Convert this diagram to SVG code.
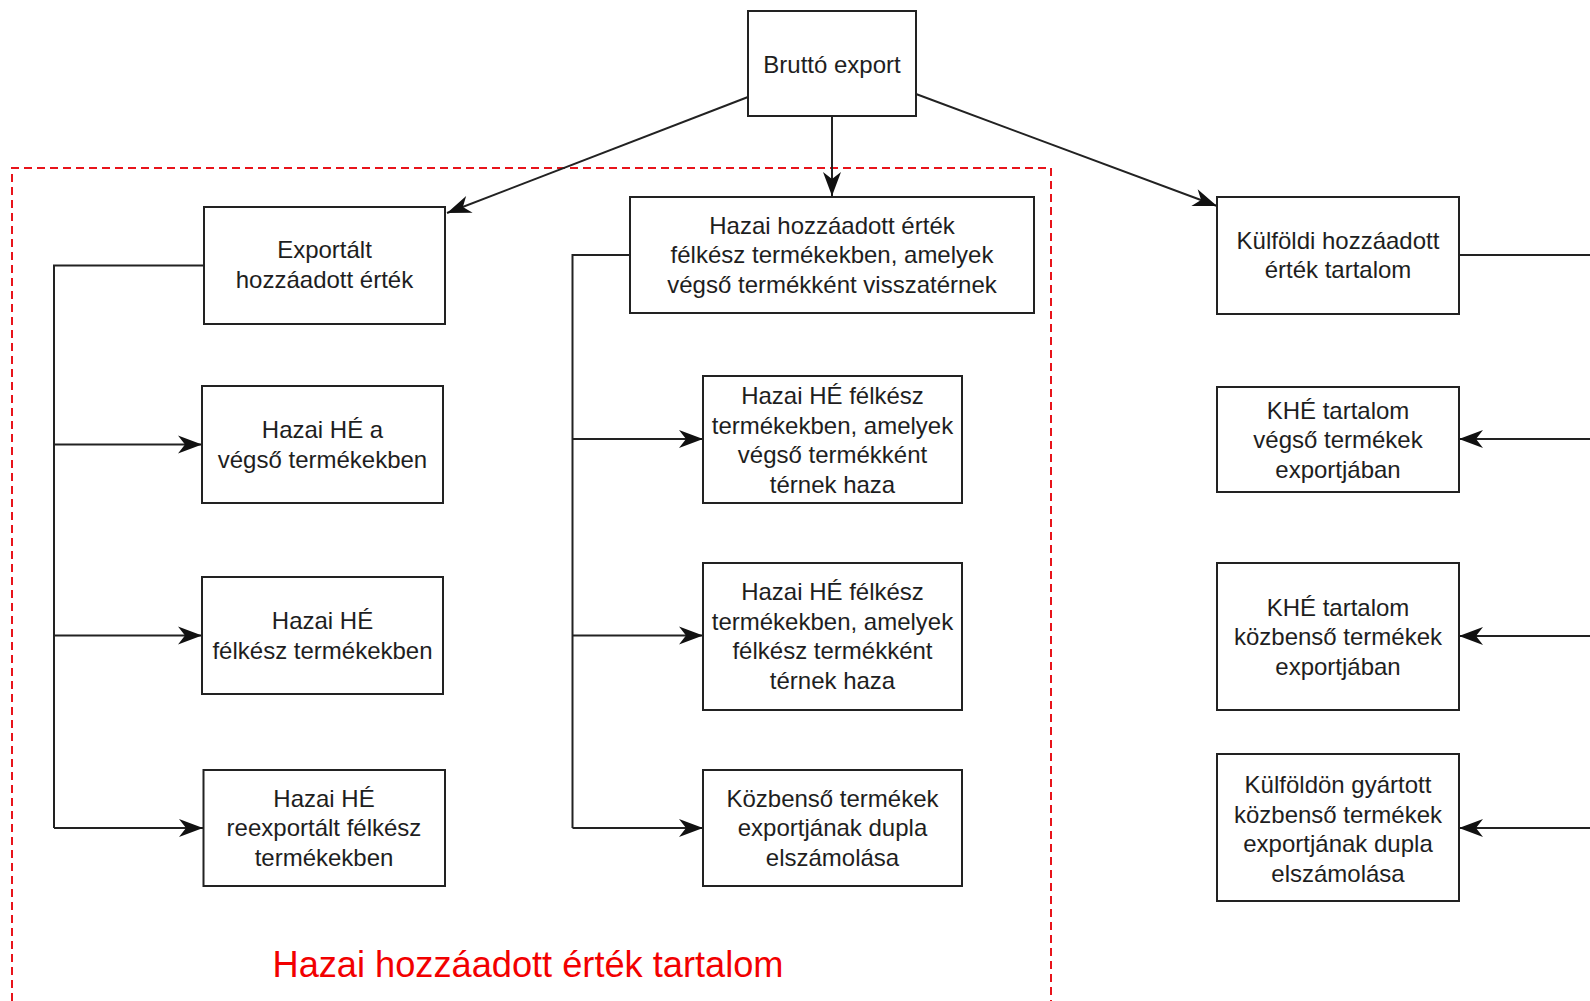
<svg xmlns="http://www.w3.org/2000/svg" width="1590" height="1001" viewBox="0 0 1590 1001">
<style>
.box{fill:#fff;stroke:#222;stroke-width:2}
.t{font-family:"Liberation Sans",Arial,sans-serif;font-size:24px;fill:#1e1e1e;text-anchor:middle}
.c{fill:none;stroke:#222;stroke-width:2}
.a{marker-end:url(#arr)}
</style>
<defs>
<marker id="arr" markerUnits="userSpaceOnUse" markerWidth="26" markerHeight="20" refX="24" refY="9" orient="auto" overflow="visible">
<path d="M0,0 L24,9 L0,18 L7,9 Z" fill="#111"/>
</marker>
</defs>
<rect width="1590" height="1001" fill="#fff"/>
<g id="frame">
<path d="M12,1001 V168 H1051 V1001" fill="none" stroke="#e8141b" stroke-width="2" stroke-dasharray="8,5"/>
<text x="528" y="977" font-family="'Liberation Sans',Arial,sans-serif" font-size="36" fill="#f20000" text-anchor="middle" textLength="511" lengthAdjust="spacingAndGlyphs">Hazai hozzáadott érték tartalom</text>
</g>
<g id="connectors">
<path class="c" d="M204,265.5 H54 V828"/>
<path class="c a" d="M54,444.5 H202"/>
<path class="c a" d="M54,635.5 H202"/>
<path class="c a" d="M54,828 H203"/>
<path class="c" d="M630,255 H572.5 V828"/>
<path class="c a" d="M572.5,439 H703"/>
<path class="c a" d="M572.5,635.5 H703"/>
<path class="c a" d="M572.5,828 H703"/>
<path class="c" d="M1459,255 H1590"/>
<path class="c a" d="M1592,439 H1459"/>
<path class="c a" d="M1592,636 H1459"/>
<path class="c a" d="M1592,828 H1459"/>
<path class="c a" d="M748,97 L447,213"/>
<path class="c a" d="M832,116 V196"/>
<path class="c a" d="M916,94 L1217,206"/>
</g>
<g id="n_brutto">
<rect class="box" x="748" y="11" width="168" height="105"/>
<text class="t" x="832" y="73">Bruttó export</text>
</g>
<g id="n_exportalt">
<rect class="box" x="204" y="207" width="241" height="117"/>
<text class="t" x="324.5" y="258">Exportált</text>
<text class="t" x="324.5" y="288">hozzáadott érték</text>
</g>
<g id="n_hazai_visszater">
<rect class="box" x="630" y="197" width="404" height="116"/>
<text class="t" x="832" y="233.5">Hazai hozzáadott érték</text>
<text class="t" x="832" y="263">félkész termékekben, amelyek</text>
<text class="t" x="832" y="292.5">végső termékként visszatérnek</text>
</g>
<g id="n_kulfoldi">
<rect class="box" x="1217" y="197" width="242" height="117"/>
<text class="t" x="1338" y="248.5">Külföldi hozzáadott</text>
<text class="t" x="1338" y="278">érték tartalom</text>
</g>
<g id="n_he_vegso">
<rect class="box" x="202" y="386" width="241" height="117"/>
<text class="t" x="322.5" y="437.5">Hazai HÉ a</text>
<text class="t" x="322.5" y="467.5">végső termékekben</text>
</g>
<g id="n_he_felkesz">
<rect class="box" x="202" y="577" width="241" height="117"/>
<text class="t" x="322.5" y="629">Hazai HÉ</text>
<text class="t" x="322.5" y="659">félkész termékekben</text>
</g>
<g id="n_he_reexport">
<rect class="box" x="203.5" y="770" width="241.5" height="116"/>
<text class="t" x="324" y="806.5">Hazai HÉ</text>
<text class="t" x="324" y="836">reexportált félkész</text>
<text class="t" x="324" y="865.5">termékekben</text>
</g>
<g id="n_m_vegso">
<rect class="box" x="703" y="376" width="259" height="127"/>
<text class="t" x="832.5" y="404">Hazai HÉ félkész</text>
<text class="t" x="832.5" y="433.5">termékekben, amelyek</text>
<text class="t" x="832.5" y="463">végső termékként</text>
<text class="t" x="832.5" y="492.5">térnek haza</text>
</g>
<g id="n_m_felkesz">
<rect class="box" x="703" y="563" width="259" height="147"/>
<text class="t" x="832.5" y="600">Hazai HÉ félkész</text>
<text class="t" x="832.5" y="629.5">termékekben, amelyek</text>
<text class="t" x="832.5" y="659">félkész termékként</text>
<text class="t" x="832.5" y="688.5">térnek haza</text>
</g>
<g id="n_m_dupla">
<rect class="box" x="703" y="770" width="259" height="116"/>
<text class="t" x="832.5" y="806.5">Közbenső termékek</text>
<text class="t" x="832.5" y="836">exportjának dupla</text>
<text class="t" x="832.5" y="865.5">elszámolása</text>
</g>
<g id="n_khe_vegso">
<rect class="box" x="1217" y="387" width="242" height="105"/>
<text class="t" x="1338" y="418.5">KHÉ tartalom</text>
<text class="t" x="1338" y="448">végső termékek</text>
<text class="t" x="1338" y="477.5">exportjában</text>
</g>
<g id="n_khe_kozbenso">
<rect class="box" x="1217" y="563" width="242" height="147"/>
<text class="t" x="1338" y="615.5">KHÉ tartalom</text>
<text class="t" x="1338" y="645">közbenső termékek</text>
<text class="t" x="1338" y="674.5">exportjában</text>
</g>
<g id="n_kulfoldon_dupla">
<rect class="box" x="1217" y="754" width="242" height="147"/>
<text class="t" x="1338" y="793">Külföldön gyártott</text>
<text class="t" x="1338" y="822.5">közbenső termékek</text>
<text class="t" x="1338" y="852">exportjának dupla</text>
<text class="t" x="1338" y="881.5">elszámolása</text>
</g>
</svg>
